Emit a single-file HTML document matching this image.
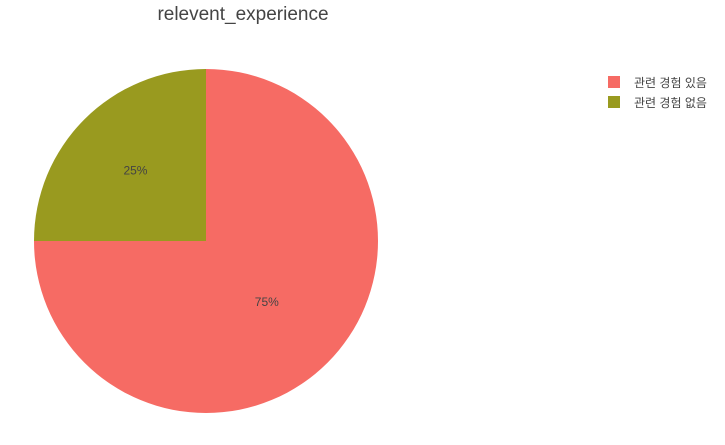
<!DOCTYPE html>
<html><head><meta charset="utf-8"><style>
body{margin:0;background:#fff;width:725px;height:440px;overflow:hidden;font-family:"Liberation Sans","Noto Sans CJK KR",sans-serif;}
</style></head><body>
<svg width="725" height="440" id="chart">
<text x="243" y="20" text-anchor="middle" font-size="19" fill="#444" font-family="Liberation Sans, sans-serif">relevent_experience</text>
<g id="slices"></g>
<g id="legend"></g>
</svg>
<script>
const categories = ["관련 경험 있음", "관련 경험 없음"];
const values = [75, 25];
const colors = ["#F66B64", "#999A1F"];
const cx = 206, cy = 241, r = 172;
const ns = "http://www.w3.org/2000/svg";
const slices = document.getElementById('slices');
const legend = document.getElementById('legend');
const total = values.reduce((a,b)=>a+b,0);
let start = 0;
function pt(frac, rad){const a = frac*2*Math.PI; return [cx + rad*Math.sin(a), cy - rad*Math.cos(a)];}
values.forEach((v,i)=>{
  const f = v/total, end = start+f;
  const [x1,y1]=pt(start,r),[x2,y2]=pt(end,r);
  const p=document.createElementNS(ns,'path');
  p.setAttribute('d',`M${cx},${cy}L${x1},${y1}A${r},${r} 0 ${f>0.5?1:0} 1 ${x2},${y2}Z`);
  p.setAttribute('fill',colors[i]);
  
  
  slices.appendChild(p);
  const lr = f>0.5 ? r*0.5 : r*0.58;
  const [lx,ly]=pt((start+end)/2,lr);
  const t=document.createElementNS(ns,'text');
  t.setAttribute('x',lx);t.setAttribute('y',ly+4);
  t.setAttribute('text-anchor','middle');t.setAttribute('font-size','12');t.setAttribute('fill','#444');
  t.textContent=Math.round(f*100)+'%';
  
  
  slices.appendChild(t);
  const rc=document.createElementNS(ns,'rect');
  rc.setAttribute('x',608);rc.setAttribute('y',76+i*20);rc.setAttribute('width',12);rc.setAttribute('height',12);
  rc.setAttribute('fill',colors[i]);
  
  
  legend.appendChild(rc);
  const lt=document.createElementNS(ns,'text');
  lt.setAttribute('x',634);lt.setAttribute('y',87+i*20);lt.setAttribute('font-size','12');lt.setAttribute('fill','#444');
  lt.textContent=categories[i];
  
  
  legend.appendChild(lt);
  start=end;
});
</script>
</body></html>
